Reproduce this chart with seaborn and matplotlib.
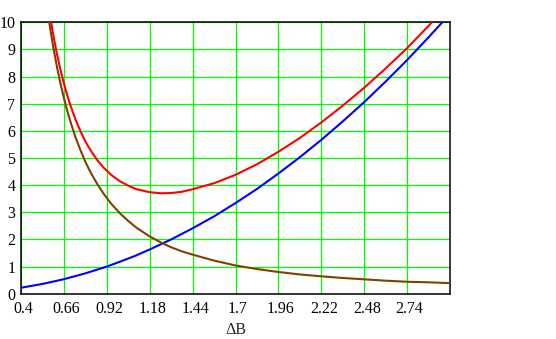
import matplotlib
matplotlib.use("Agg")
import matplotlib.pyplot as plt
import matplotlib.transforms as mtransforms
import pandas as pd
import seaborn as sns

# Rising component (blue)
blue_x = [0.40, 0.53, 0.66, 0.79, 0.92, 1.00, 1.09, 1.18, 1.31, 1.44, 1.57, 1.70,
          1.83, 1.96, 2.09, 2.22, 2.35, 2.48, 2.61, 2.74, 2.87, 2.953]
blue_y = [0.22, 0.36, 0.535, 0.75, 1.00, 1.18, 1.39, 1.63, 2.00, 2.41, 2.85, 3.34,
          3.86, 4.43, 5.03, 5.67, 6.35, 7.06, 7.82, 8.61, 9.45, 10.0]

# Falling component (brown)
brown_x = [0.571, 0.58, 0.59, 0.60, 0.62, 0.64, 0.66, 0.68, 0.70, 0.73, 0.76, 0.79,
           0.82, 0.86, 0.90, 0.95, 1.00, 1.05, 1.10, 1.18, 1.25, 1.31, 1.37, 1.44,
           1.57, 1.70, 1.83, 1.96, 2.09, 2.22, 2.35, 2.48, 2.61, 2.74, 2.87, 3.00]
brown_y = [10.0, 9.65, 9.28, 8.93, 8.29, 7.72, 7.21, 6.74, 6.33, 5.77, 5.29, 4.86,
           4.49, 4.06, 3.69, 3.29, 2.96, 2.68, 2.43, 2.11, 1.88, 1.71, 1.57, 1.44,
           1.22, 1.04, 0.91, 0.80, 0.71, 0.64, 0.58, 0.53, 0.48, 0.44, 0.42, 0.39]

# Total (red)
red_x = [0.583, 0.59, 0.60, 0.62, 0.64, 0.66, 0.68, 0.70, 0.73, 0.76, 0.79, 0.82,
         0.86, 0.90, 0.95, 1.00, 1.05, 1.10, 1.18, 1.25, 1.31, 1.37, 1.44, 1.57,
         1.70, 1.83, 1.96, 2.09, 2.22, 2.35, 2.48, 2.61, 2.74, 2.87, 2.89]
red_y = [10.0, 9.72, 9.38, 8.77, 8.23, 7.75, 7.31, 6.93, 6.42, 5.99, 5.61, 5.30,
         4.94, 4.65, 4.36, 4.14, 3.98, 3.85, 3.74, 3.70, 3.71, 3.75, 3.85, 4.07,
         4.38, 4.77, 5.23, 5.74, 6.31, 6.93, 7.59, 8.30, 9.05, 9.87, 10.0]

x_ticks = [0.4, 0.66, 0.92, 1.18, 1.44, 1.7, 1.96, 2.22, 2.48, 2.74]
x_tick_labels = ["0.4", "0.66", "0.92", "1.18", "1.44", "1.7", "1.96", "2.22", "2.48", "2.74"]
y_ticks = list(range(0, 11))

sns.set_style("white")
plt.rcParams["font.family"] = ["Liberation Serif", "DejaVu Serif"]

fig = plt.figure(figsize=(5.56, 3.39), dpi=100)
ax = fig.add_axes([0.0378, 0.1336, 0.7716, 0.8006])

series = [
    (blue_x, blue_y, "#0000ff"),
    (brown_x, brown_y, "#804000"),
    (red_x, red_y, "#ff0000"),
]
for xs, ys, col in series:
    df = pd.DataFrame({"x": xs, "y": ys})
    sns.lineplot(data=df, x="x", y="y", color=col, linewidth=1.5,
                 estimator=None, sort=False, ax=ax, zorder=3)

ax.set_xlim(0.4, 3.0)
ax.set_ylim(0, 10)
ax.set_xticks(x_ticks)
ax.set_xticklabels(x_tick_labels)
ax.set_yticks(y_ticks)
ax.set_yticklabels([str(v) for v in y_ticks])

ax.grid(True, color="#00ff00", linewidth=0.9, zorder=1)
ax.set_axisbelow(True)
ax.tick_params(axis="both", length=0, labelsize=11.5, colors="black")
ax.tick_params(axis="x", pad=5.5)
ax.tick_params(axis="y", pad=4)

# nudge the x tick labels slightly to the right
offset = mtransforms.ScaledTranslation(2.5 / 100, 0, fig.dpi_scale_trans)
for lbl in ax.get_xticklabels():
    lbl.set_transform(lbl.get_transform() + offset)

for side in ["left", "right", "top", "bottom"]:
    ax.spines[side].set_visible(True)
    ax.spines[side].set_color("black")
    ax.spines[side].set_linewidth(1.1)

ax.set_xlabel("ΔB", fontsize=11.5, labelpad=3)
ax.set_ylabel("")

fig.savefig("out.png", dpi=100)
